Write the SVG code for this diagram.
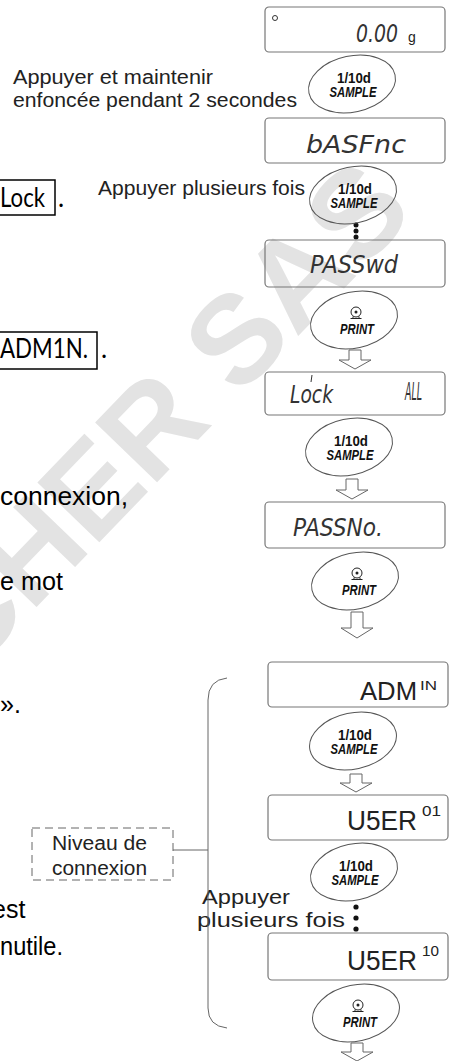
<svg xmlns="http://www.w3.org/2000/svg" width="450" height="1061" viewBox="0 0 450 1061">
<style>
.wm{font-family:"Liberation Sans",Arial,sans-serif;font-weight:bold;font-size:125px;fill:#e3e3e3}
.lbl{font-family:"Liberation Sans",Arial,sans-serif;font-size:20px;fill:#222}
.page{font-family:"Liberation Sans",Arial,sans-serif;font-size:25px;fill:#000}
.cal{font-family:Lato,"Open Sans",sans-serif;font-size:26px;fill:#000}
.disp{fill:none;stroke:#777;stroke-width:1.2}
.key{fill:none;stroke:#555;stroke-width:1}
.seg{font-family:"DejaVu Sans","Liberation Sans",sans-serif;font-weight:200;font-style:italic;font-size:24px;fill:#333}
.dig{font-family:"Liberation Sans",Arial,sans-serif;fill:#222}
.k1{font-family:"Liberation Sans",Arial,sans-serif;font-weight:bold;font-size:14px;fill:#111;text-anchor:middle}
.k2{font-family:"Liberation Sans",Arial,sans-serif;font-weight:bold;font-style:italic;font-size:14px;fill:#111;text-anchor:middle}
.arr{fill:#fff;stroke:#666;stroke-width:1}
.conn{fill:none;stroke:#666;stroke-width:1}
.dot{fill:#111}
</style>
<defs>
<g id="samplekey">
<ellipse cx="0" cy="0" rx="44" ry="28" transform="rotate(-12)" class="key"/>
</g>
<g id="printicon">
<circle cx="0" cy="-8" r="5" fill="none" stroke="#222" stroke-width="1"/>
<circle cx="0" cy="-8" r="1.5" fill="#222"/>
<path d="M-5.5,-1.5 H5.5 M-3,-3.5 V-1.5 M3,-3.5 V-1.5" stroke="#222" stroke-width="1" fill="none"/>
</g>
</defs>

<rect width="450" height="1061" fill="#fff"/>

<g id="watermark">
<text class="wm" x="-32" y="678" transform="rotate(-46 -32 678)">CHER SAS</text>
</g>

<g id="page-text">
<rect x="-2" y="180" width="57" height="35" fill="none" stroke="#000" stroke-width="1.5"/>
<text class="cal" x="0" y="207" textLength="45" lengthAdjust="spacingAndGlyphs">Lock</text>
<text class="cal" x="58" y="207">.</text>
<rect x="-2" y="332" width="99" height="37" fill="none" stroke="#000" stroke-width="1.5"/>
<text class="cal" x="0" y="358" textLength="88" lengthAdjust="spacingAndGlyphs">ADM1N.</text>
<text class="cal" x="101" y="358">.</text>
<text class="page" x="0" y="505" textLength="128" lengthAdjust="spacingAndGlyphs">connexion,</text>
<text class="page" x="0" y="590" textLength="63" lengthAdjust="spacingAndGlyphs">e mot</text>
<text class="page" x="0" y="713">».</text>
<text class="page" x="-8" y="918">est</text>
<text class="page" x="0" y="955" textLength="63" lengthAdjust="spacingAndGlyphs">nutile.</text>
</g>

<g id="labels">
<text class="lbl" x="13" y="84" textLength="200" lengthAdjust="spacingAndGlyphs">Appuyer et maintenir</text>
<text class="lbl" x="13" y="107" textLength="284" lengthAdjust="spacingAndGlyphs">enfoncée pendant 2 secondes</text>
<text class="lbl" x="98" y="195" textLength="207" lengthAdjust="spacingAndGlyphs">Appuyer plusieurs fois</text>
<text class="lbl" x="202" y="904" textLength="88" lengthAdjust="spacingAndGlyphs">Appuyer</text>
<text class="lbl" x="197" y="927" textLength="148" lengthAdjust="spacingAndGlyphs">plusieurs fois</text>
</g>

<g id="connectors">
<polygon class="arr" points="349,350 361,350 361,360 371,360 355,369 339,360 349,360"/>
<polygon class="arr" points="346,479 358,479 358,490 368,490 352,499 336,490 346,490"/>
<polygon class="arr" points="351,612 363,612 363,628 373,628 357,638 341,628 351,628"/>
<polygon class="arr" points="350,774 362,774 362,783 372,783 356,792 340,783 350,783"/>
<polygon class="arr" points="351,1043 363,1043 363,1052 373,1052 357,1061 341,1052 351,1052"/>
<circle class="dot" cx="356" cy="225" r="2.5"/>
<circle class="dot" cx="356" cy="231" r="2.5"/>
<circle class="dot" cx="356" cy="237" r="2.5"/>
<circle class="dot" cx="356" cy="907" r="2.6"/>
<circle class="dot" cx="356" cy="918" r="2.6"/>
<circle class="dot" cx="356" cy="929" r="2.6"/>
<path class="conn" d="M227,678 Q208,680 208,700 L208,1008 Q208,1026 227,1028"/>
<path class="conn" d="M173,850 H208"/>
</g>

<g id="node-display-zero">
<rect class="disp" x="265" y="7" width="180" height="45" rx="4"/>
<circle cx="275" cy="18" r="2.5" fill="none" stroke="#333" stroke-width="1"/>
<text class="seg" x="356" y="42" font-size="23" textLength="42" lengthAdjust="spacingAndGlyphs">0.00</text>
<text class="dig" x="408" y="42" font-size="14">g</text>
</g>

<g id="node-key-sample-1">
<use href="#samplekey" x="352" y="84"/>
<text class="k1" x="354" y="83" textLength="34" lengthAdjust="spacingAndGlyphs">1/10d</text>
<text class="k2" x="353" y="97" textLength="47" lengthAdjust="spacingAndGlyphs">SAMPLE</text>
</g>

<g id="node-display-basfnc">
<rect class="disp" x="265" y="118" width="180" height="45" rx="4"/>
<text class="seg" x="306" y="153" textLength="100" lengthAdjust="spacingAndGlyphs">bASFnc</text>
</g>

<g id="node-key-sample-2">
<use href="#samplekey" x="353" y="195"/>
<text class="k1" x="355" y="194" textLength="34" lengthAdjust="spacingAndGlyphs">1/10d</text>
<text class="k2" x="354" y="208" textLength="47" lengthAdjust="spacingAndGlyphs">SAMPLE</text>
</g>

<g id="node-display-passwd">
<rect class="disp" x="265" y="240" width="180" height="47" rx="4"/>
<text class="seg" x="310" y="273" textLength="88" lengthAdjust="spacingAndGlyphs">PASSwd</text>
</g>

<g id="node-key-print-1">
<use href="#samplekey" x="354" y="320"/>
<use href="#printicon" x="356" y="320"/>
<text class="k2" x="357" y="334" textLength="34" lengthAdjust="spacingAndGlyphs">PRINT</text>
</g>

<g id="node-display-lock">
<rect class="disp" x="265" y="372" width="180" height="43" rx="4"/>
<path d="M312,375 L311,382" stroke="#333" stroke-width="1"/>
<text class="seg" x="290" y="403" font-size="22" textLength="43" lengthAdjust="spacingAndGlyphs">Lock</text>
<text class="seg" x="405" y="400" font-size="11" textLength="17" lengthAdjust="spacingAndGlyphs">ALL</text>
</g>

<g id="node-key-sample-3">
<use href="#samplekey" x="349" y="447"/>
<text class="k1" x="351" y="446" textLength="34" lengthAdjust="spacingAndGlyphs">1/10d</text>
<text class="k2" x="350" y="460" textLength="47" lengthAdjust="spacingAndGlyphs">SAMPLE</text>
</g>

<g id="node-display-passno">
<rect class="disp" x="265" y="502" width="180" height="46" rx="4"/>
<text class="seg" x="293" y="536" textLength="90" lengthAdjust="spacingAndGlyphs">PASSNo.</text>
</g>

<g id="node-key-print-2">
<use href="#samplekey" x="355" y="581"/>
<use href="#printicon" x="357" y="581"/>
<text class="k2" x="359" y="595" textLength="34" lengthAdjust="spacingAndGlyphs">PRINT</text>
</g>

<g id="node-display-admin">
<rect class="disp" x="268" y="662" width="180" height="45" rx="4"/>
<text class="dig" x="360" y="700" font-size="26" textLength="57" lengthAdjust="spacingAndGlyphs">ADM</text>
<text class="dig" x="420" y="690" font-size="13" textLength="17" lengthAdjust="spacingAndGlyphs">IN</text>
</g>

<g id="node-key-sample-4">
<use href="#samplekey" x="353" y="741"/>
<text class="k1" x="355" y="740" textLength="34" lengthAdjust="spacingAndGlyphs">1/10d</text>
<text class="k2" x="354" y="754" textLength="47" lengthAdjust="spacingAndGlyphs">SAMPLE</text>
</g>

<g id="node-display-user01">
<rect class="disp" x="268" y="795" width="180" height="45" rx="4"/>
<text class="dig" x="347" y="830" font-size="27" textLength="70" lengthAdjust="spacingAndGlyphs">U5ER</text>
<text class="dig" x="422" y="816" font-size="14" textLength="19" lengthAdjust="spacingAndGlyphs">01</text>
</g>

<g id="node-key-sample-5">
<use href="#samplekey" x="354" y="872"/>
<text class="k1" x="356" y="871" textLength="34" lengthAdjust="spacingAndGlyphs">1/10d</text>
<text class="k2" x="355" y="885" textLength="47" lengthAdjust="spacingAndGlyphs">SAMPLE</text>
</g>

<g id="node-display-user10">
<rect class="disp" x="268" y="933" width="180" height="47" rx="4"/>
<text class="dig" x="347" y="970" font-size="27" textLength="70" lengthAdjust="spacingAndGlyphs">U5ER</text>
<text class="dig" x="422" y="956" font-size="14" textLength="17" lengthAdjust="spacingAndGlyphs">10</text>
</g>

<g id="node-key-print-3">
<use href="#samplekey" x="356" y="1013"/>
<use href="#printicon" x="358" y="1013"/>
<text class="k2" x="360" y="1027" textLength="34" lengthAdjust="spacingAndGlyphs">PRINT</text>
</g>

<g id="node-niveau">
<rect x="32" y="828" width="141" height="52" fill="none" stroke="#666" stroke-width="1" stroke-dasharray="8,5"/>
<text class="lbl" x="52" y="850" textLength="95" lengthAdjust="spacingAndGlyphs">Niveau de</text>
<text class="lbl" x="52" y="875" textLength="95" lengthAdjust="spacingAndGlyphs">connexion</text>
</g>
</svg>
